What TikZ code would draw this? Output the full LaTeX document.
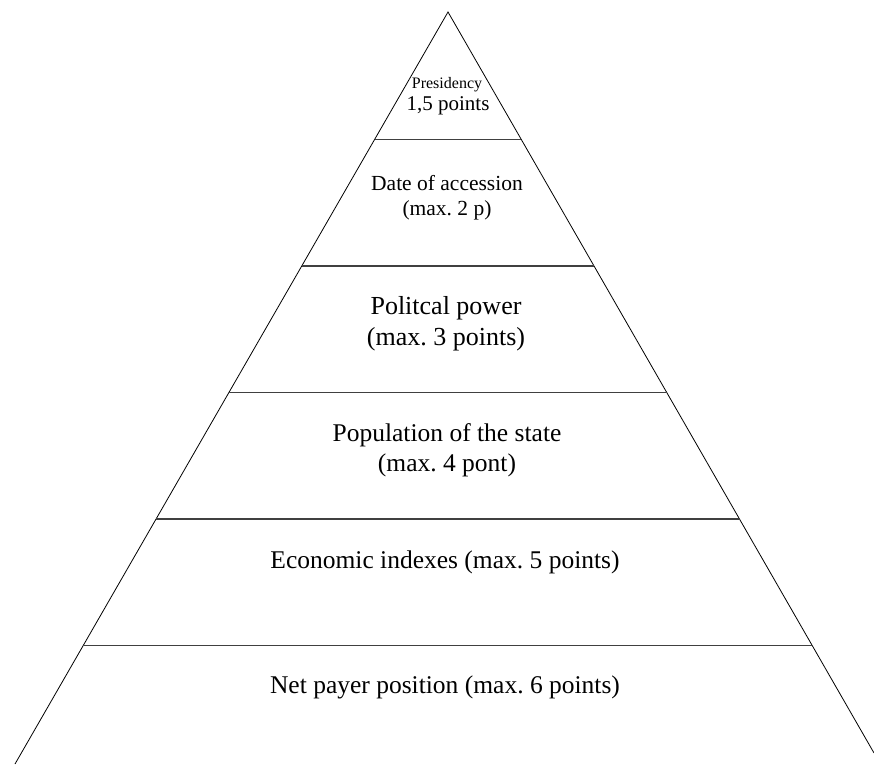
\documentclass[tikz,border=0pt]{standalone}
\usepackage{fontspec}
\setmainfont{Liberation Serif}
\frenchspacing
\tikzset{
    cote/.style={line width=0.8pt, black},
    palier/.style={line width=1.6pt, black!75},
    etiquette/.style={align=center, inner sep=0pt}
}

\begin{document}
\begin{tikzpicture}[x=1pt, y=-1pt]

    % Cadre de l'image
    \useasboundingbox (0,0) rectangle (874,765);

    % Sommet et pieds de la pyramide
    \coordinate (sommet) at (448,12);
    \coordinate (piedG) at (15,764);
    \coordinate (piedD) at (874,753);

    % Côtés
    \draw[cote] (piedG) -- (sommet) -- (piedD);

    % Séparations entre les niveaux
    \foreach \y in {139.5,266,392.5,519,645.5} {
        \draw[palier] ({448-0.5755*(\y-12)},\y) -- ({448+0.5755*(\y-12)},\y);
    }

    % Textes des niveaux
    \node[etiquette, font=\fontsize{16}{18}\selectfont] (presidence) at (447,85) {Presidency};
    \node[etiquette, font=\fontsize{21}{24}\selectfont] (points) at (448,106) {1,5 points};
    \node[etiquette, font=\fontsize{21.5}{25}\selectfont] (adhesion) at (447,197.5) {Date of accession\\(max. 2 p)};
    \node[etiquette, font=\fontsize{26}{31}\selectfont] (pouvoir) at (446,324) {Politcal power\\(max. 3 points)};
    \node[etiquette, font=\fontsize{25.5}{30}\selectfont] (population) at (447,450) {Population of the state\\(max. 4 pont)};
    \node[etiquette, font=\fontsize{25.5}{30}\selectfont] (economie) at (445,562) {Economic indexes (max. 5 points)};
    \node[etiquette, font=\fontsize{25.5}{30}\selectfont] (contributeur) at (445,687) {Net payer position (max. 6 points)};

\end{tikzpicture}
\end{document}
